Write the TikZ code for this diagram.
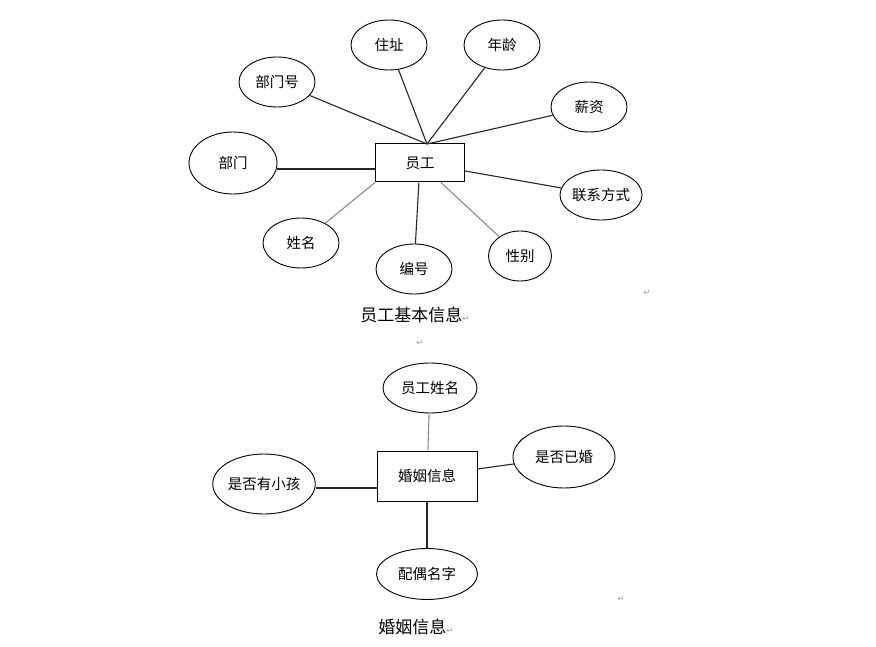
\documentclass[tikz,border=0pt]{standalone}
\usepackage{fontspec}
\setmainfont{Noto Sans CJK SC}
\newfontfamily\symfont{DejaVu Sans}
\usepackage{tikz}
\usetikzlibrary{shapes.geometric, positioning}
\newcommand{\retmk}{{\symfont\fontsize{8.5}{8.5}\selectfont\color{gray!80}↵}}

\begin{document}
\begin{tikzpicture}[x=1pt, y=-1pt,
    entity/.style={rectangle, draw=black, line width=1pt, inner sep=0pt, font=\fontsize{14.5}{14.5}\selectfont},
    attr/.style={ellipse, draw=black, line width=0.9pt, inner sep=0pt, font=\fontsize{14.5}{14.5}\selectfont},
    link/.style={draw=black!85, line width=1.1pt},
    softlink/.style={draw=black!45, line width=1.1pt},
    caption/.style={inner sep=0pt, font=\fontsize{17}{17}\selectfont}
]
\useasboundingbox (0,0) rectangle (876,647);

% employee basic info
\node[entity, minimum width=89pt, minimum height=38pt] (emp) at (420,163) {员工};
\coordinate (hub) at (427,144);
\node[attr, minimum width=76pt, minimum height=50pt] (addr) at (389,45) {住址};
\node[attr, minimum width=76pt, minimum height=50pt] (age) at (502,45) {年龄};
\node[attr, minimum width=76pt, minimum height=50pt] (deptno) at (277,82) {部门号};
\node[attr, minimum width=88pt, minimum height=62pt] (dept) at (233,163) {部门};
\node[attr, minimum width=76pt, minimum height=50pt] (salary) at (589,107) {薪资};
\node[attr, minimum width=76pt, minimum height=50pt] (contact) at (601,195) {联系方式};
\node[attr, minimum width=63pt, minimum height=50pt] (sex) at (520,256) {性别};
\node[attr, minimum width=76pt, minimum height=50pt] (empno) at (414,269) {编号};
\node[attr, minimum width=76pt, minimum height=50pt] (name) at (301,243) {姓名};

\draw[link] (deptno) -- (hub);
\draw[link] (addr) -- (hub);
\draw[link] (age) -- (hub);
\draw[link] (salary) -- (hub);
\draw[link] ([yshift=-6pt]dept.east) -- ([yshift=-6pt]emp.west);
\draw[link] (emp) -- (contact);
\draw[softlink] (emp) -- (sex);
\draw[link] (emp) -- (empno);
\draw[softlink] (emp.south west) -- (name);

\node[caption] (cap1) at (415,315) {员工基本信息\retmk};
\node[inner sep=0pt] (ret1) at (647,293) {\retmk};
\node[inner sep=0pt] (ret2) at (420,343) {\retmk};

% marriage info
\node[entity, minimum width=100pt, minimum height=50pt] (marry) at (427,476) {婚姻信息};
\node[attr, minimum width=94pt, minimum height=50pt] (empname) at (430,388) {员工姓名};
\node[attr, minimum width=102pt, minimum height=62pt] (married) at (564,457) {是否已婚};
\node[attr, minimum width=101pt, minimum height=60pt] (kids) at (264,484) {是否有小孩};
\node[attr, minimum width=101pt, minimum height=51pt] (spouse) at (427,574) {配偶名字};

\draw[softlink] (empname) -- (marry);
\draw[link] (married) -- (marry);
\draw[link] ([yshift=-4pt]kids.east) -- ([yshift=-12pt]marry.west);
\draw[link] (marry) -- (spouse);

\node[caption] (cap2) at (416,627) {婚姻信息\retmk};
\node[inner sep=0pt] (ret3) at (621,599) {\retmk};

\end{tikzpicture}
\end{document}
